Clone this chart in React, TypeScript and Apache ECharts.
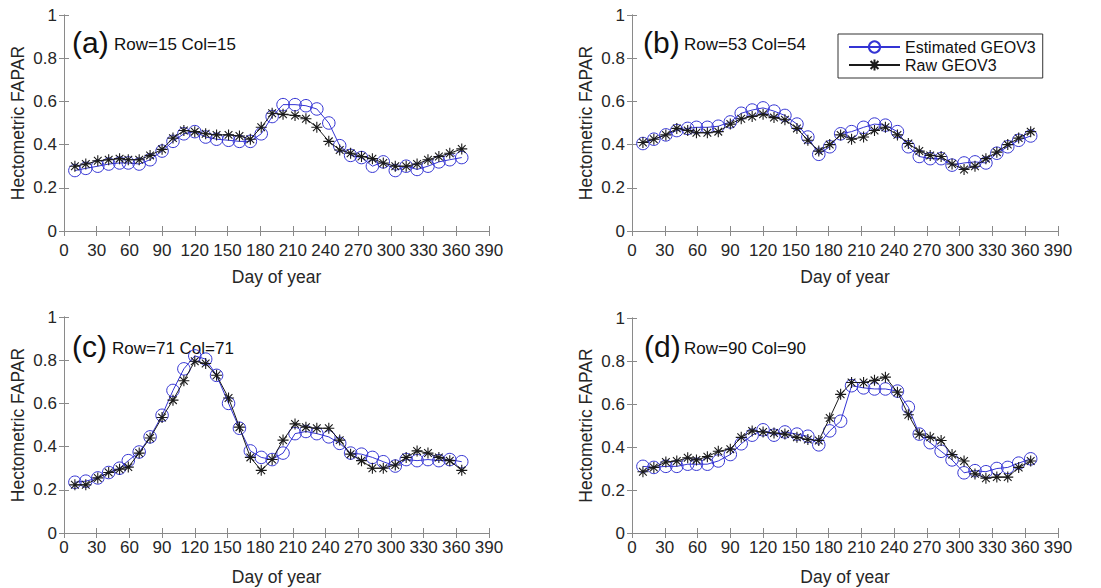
import React, { useEffect, useRef } from "react";
import * as echarts from "echarts";

const days = [10, 20, 31, 41, 51, 59, 69, 79, 90, 100, 110, 120, 130, 140, 151, 161, 171, 181, 191, 201, 212, 222, 232, 243, 253, 263, 273, 283, 293, 304, 314, 324, 334, 344, 354, 365];

const estA = [0.28, 0.29, 0.30, 0.31, 0.315, 0.315, 0.31, 0.33, 0.37, 0.415, 0.45, 0.46, 0.435, 0.425, 0.42, 0.415, 0.415, 0.45, 0.53, 0.585, 0.585, 0.58, 0.565, 0.50, 0.395, 0.35, 0.34, 0.30, 0.32, 0.28, 0.30, 0.285, 0.30, 0.32, 0.33, 0.34];
const rawA = [0.30, 0.31, 0.325, 0.33, 0.335, 0.33, 0.33, 0.35, 0.378, 0.43, 0.465, 0.46, 0.45, 0.445, 0.445, 0.44, 0.425, 0.48, 0.545, 0.54, 0.535, 0.52, 0.48, 0.415, 0.375, 0.36, 0.345, 0.335, 0.315, 0.30, 0.30, 0.31, 0.33, 0.345, 0.36, 0.38];

const estB = [0.405, 0.425, 0.445, 0.465, 0.475, 0.48, 0.48, 0.485, 0.505, 0.545, 0.56, 0.57, 0.555, 0.535, 0.495, 0.435, 0.355, 0.39, 0.45, 0.46, 0.48, 0.495, 0.49, 0.46, 0.39, 0.345, 0.335, 0.335, 0.305, 0.315, 0.32, 0.315, 0.36, 0.39, 0.42, 0.44];
const rawB = [0.41, 0.425, 0.445, 0.475, 0.465, 0.455, 0.455, 0.46, 0.495, 0.52, 0.53, 0.54, 0.525, 0.515, 0.475, 0.42, 0.37, 0.40, 0.445, 0.425, 0.435, 0.465, 0.48, 0.445, 0.405, 0.37, 0.35, 0.345, 0.31, 0.285, 0.30, 0.335, 0.365, 0.40, 0.43, 0.46];

const estC = [0.235, 0.24, 0.255, 0.28, 0.30, 0.335, 0.375, 0.445, 0.545, 0.66, 0.76, 0.82, 0.805, 0.73, 0.60, 0.485, 0.38, 0.35, 0.34, 0.37, 0.46, 0.47, 0.46, 0.445, 0.415, 0.37, 0.365, 0.35, 0.33, 0.31, 0.34, 0.335, 0.34, 0.335, 0.34, 0.33];
const rawC = [0.223, 0.223, 0.255, 0.28, 0.295, 0.305, 0.37, 0.44, 0.535, 0.615, 0.705, 0.795, 0.785, 0.73, 0.625, 0.49, 0.35, 0.29, 0.34, 0.43, 0.505, 0.49, 0.485, 0.485, 0.43, 0.365, 0.335, 0.30, 0.30, 0.315, 0.35, 0.38, 0.37, 0.35, 0.335, 0.29];

const estD = [0.31, 0.305, 0.31, 0.31, 0.32, 0.32, 0.32, 0.335, 0.365, 0.415, 0.455, 0.48, 0.455, 0.47, 0.46, 0.45, 0.41, 0.475, 0.52, 0.685, 0.675, 0.67, 0.67, 0.66, 0.585, 0.46, 0.42, 0.38, 0.34, 0.28, 0.29, 0.285, 0.30, 0.305, 0.325, 0.345];
const rawD = [0.285, 0.305, 0.33, 0.335, 0.35, 0.34, 0.355, 0.38, 0.39, 0.445, 0.475, 0.47, 0.465, 0.46, 0.445, 0.435, 0.43, 0.535, 0.645, 0.70, 0.70, 0.71, 0.725, 0.655, 0.55, 0.46, 0.445, 0.43, 0.365, 0.335, 0.275, 0.255, 0.26, 0.26, 0.305, 0.335];

const panelLetters = ["(a)", "(b)", "(c)", "(d)"];
const panelInfo = ["Row=15 Col=15", "Row=53 Col=54", "Row=71 Col=71", "Row=90 Col=90"];
const seriesNames = ["Estimated GEOV3", "Raw GEOV3"];
const xName = "Day of year";
const yName = "Hectometric FAPAR";

const estSets = [estA, estB, estC, estD];
const rawSets = [rawA, rawB, rawC, rawD];

const FONT = '"Liberation Sans", Arial, sans-serif';
const BLUE = "#3434d4";
const BLACK = "#1a1a1a";
const BOX = "#8a8a8a";
const STAR = "path://M0 -1 L0 1 M-1 0 L1 0 M-0.7 -0.7 L0.7 0.7 M-0.7 0.7 L0.7 -0.7";

const grids = [
  { left: 64, top: 15, width: 425, height: 216 },
  { left: 632, top: 15, width: 426, height: 216 },
  { left: 64, top: 317, width: 425, height: 216 },
  { left: 632, top: 318, width: 426, height: 215 },
];
const labelMargins = [11, 11, 6, 6];
const nameGaps = [37, 37, 35, 35];
const textPos = [
  { lx: 72, rx: 114, y: 42 },
  { lx: 643, rx: 684, y: 42 },
  { lx: 72, rx: 112, y: 346 },
  { lx: 644, rx: 684, y: 346 },
];

export default function App() {
  const ref = useRef<HTMLDivElement>(null);
  useEffect(() => {
    if (!ref.current) return;
    const chart = echarts.init(ref.current, undefined, { renderer: "svg" });
    const xAxis: any[] = [];
    const yAxis: any[] = [];
    const series: any[] = [];
    const graphic: any[] = [];
    grids.forEach((g, i) => {
      const common = {
        gridIndex: i,
        min: 0,
        axisLine: { show: true, lineStyle: { color: BOX, width: 1 } },
        axisTick: { show: true, inside: true, length: 5, lineStyle: { color: BOX } },
        splitLine: { show: false },
      };
      xAxis.push({
        ...common,
        type: "value",
        position: "bottom",
        max: 390,
        interval: 30,
        name: xName,
        nameLocation: "middle",
        nameGap: nameGaps[i],
        nameTextStyle: { fontSize: 17.5, color: "#262626", fontFamily: FONT },
        axisLabel: { show: true, margin: labelMargins[i], fontSize: 17, color: "#262626", fontFamily: FONT },
      });
      xAxis.push({
        ...common,
        type: "value",
        position: "top",
        max: 390,
        interval: 30,
        axisLabel: { show: false },
      });
      yAxis.push({
        ...common,
        type: "value",
        position: "left",
        max: 1,
        interval: 0.2,
        name: yName,
        nameLocation: "middle",
        nameRotate: 90,
        nameGap: 37,
        nameTextStyle: { fontSize: 17.5, color: "#262626", fontFamily: FONT },
        axisLabel: {
          show: true,
          margin: 7,
          fontSize: 17,
          color: "#262626",
          fontFamily: FONT,
          formatter: (v: number) => String(+v.toFixed(1)),
        },
      });
      yAxis.push({
        ...common,
        type: "value",
        position: "right",
        max: 1,
        interval: 0.2,
        axisLabel: { show: false },
      });
      series.push({
        type: "line",
        name: seriesNames[0],
        xAxisIndex: 2 * i,
        yAxisIndex: 2 * i,
        data: days.map((d, k) => [d, estSets[i][k]]),
        symbol: "circle",
        symbolSize: 12.5,
        lineStyle: { color: BLUE, width: 1 },
        itemStyle: { color: "transparent", borderColor: BLUE, borderWidth: 1 },
        z: 2,
      });
      series.push({
        type: "line",
        name: seriesNames[1],
        xAxisIndex: 2 * i,
        yAxisIndex: 2 * i,
        data: days.map((d, k) => [d, rawSets[i][k]]),
        symbol: STAR,
        symbolSize: 11,
        lineStyle: { color: BLACK, width: 1 },
        itemStyle: { color: "transparent", borderColor: BLACK, borderWidth: 1.1 },
        z: 3,
      });
      const p = textPos[i];
      graphic.push({
        type: "text",
        x: p.lx,
        y: p.y,
        style: { text: panelLetters[i], fontSize: 30, fontFamily: FONT, fill: "#111", verticalAlign: "middle" },
      });
      graphic.push({
        type: "text",
        x: p.rx,
        y: p.y + 2,
        style: { text: panelInfo[i], fontSize: 17, fontFamily: FONT, fill: "#111", verticalAlign: "middle" },
      });
    });
    chart.setOption({
      animation: false,
      backgroundColor: "#ffffff",
      grid: grids.map((g) => ({ ...g, containLabel: false })),
      xAxis,
      yAxis,
      series,
      graphic,
      legend: {
        data: seriesNames,
        left: 838,
        top: 34,
        orient: "vertical",
        backgroundColor: "#ffffff",
        borderColor: "#333",
        borderWidth: 1,
        borderRadius: 0,
        padding: [5, 7, 5, 10],
        itemGap: 2,
        itemWidth: 51,
        itemHeight: 14,
        textStyle: { fontSize: 16, color: "#111", fontFamily: FONT },
        selectedMode: false,
      },
    });
    return () => chart.dispose();
  }, []);
  return <div ref={ref} style={{ position: "absolute", left: 0, top: 0, width: 1101, height: 588 }} />;
}
